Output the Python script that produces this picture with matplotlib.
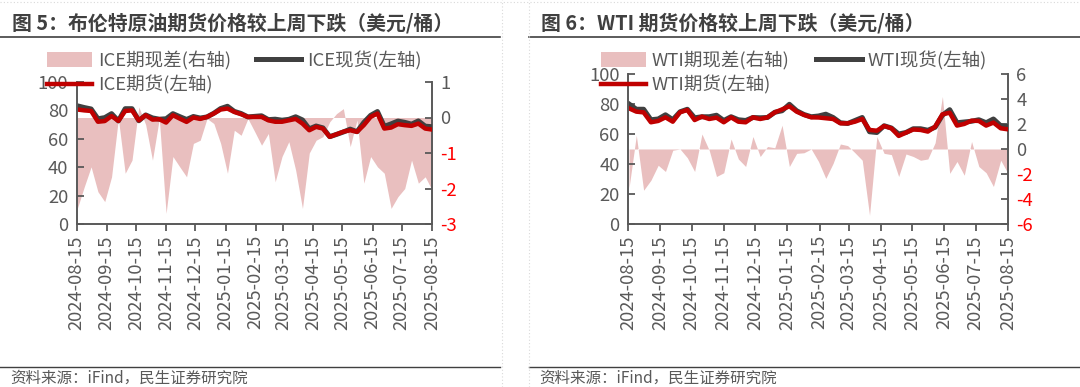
import matplotlib
matplotlib.use("Agg")
import matplotlib.pyplot as plt
from matplotlib.lines import Line2D
import pandas as pd

plt.rcParams['font.family'] = ['Noto Sans CJK SC', 'DejaVu Sans']
plt.rcParams['axes.unicode_minus'] = False

# ---------------- data ----------------
start_date = '2024-08-16'
n_weeks = 53
tick_labels = ['2024-08-15', '2024-09-15', '2024-10-15', '2024-11-15', '2024-12-15',
               '2025-01-15', '2025-02-15', '2025-03-15', '2025-04-15', '2025-05-15',
               '2025-06-15', '2025-07-15', '2025-08-15']

ice_futures = [80.6, 80.0, 79.6, 72.0, 72.5, 76.0, 72.6, 79.6, 80.0, 73.0,
               76.6, 73.5, 73.8, 71.4, 76.6, 74.2, 71.9, 75.0, 74.0, 75.4,
               77.8, 80.6, 81.3, 78.9, 77.3, 75.4, 75.4, 75.4, 73.0, 72.0,
               72.0, 73.0, 74.0, 70.7, 66.0, 68.4, 67.2, 61.4, 63.2, 65.0,
               66.0, 64.9, 69.6, 75.4, 77.8, 67.2, 67.9, 70.3, 69.6, 69.1,
               70.7, 67.2, 66.5]
ice_spot = [83.2, 82.0, 81.0, 74.1, 74.9, 77.7, 72.6, 81.2, 81.2, 72.7,
            76.8, 74.7, 73.8, 74.1, 77.7, 75.6, 73.6, 75.7, 74.6, 75.4,
            78.0, 81.3, 82.9, 79.3, 77.8, 75.4, 75.8, 76.2, 73.5, 73.8,
            73.1, 73.7, 75.5, 73.3, 67.0, 69.0, 67.7, 61.5, 63.1, 64.8,
            66.8, 65.0, 71.5, 76.5, 79.2, 68.8, 70.5, 72.5, 71.6, 70.3,
            72.6, 68.9, 68.5]
ice_spread = [-2.55, -1.95, -1.39, -2.09, -2.37, -1.67, -0.03, -1.57, -1.20, 0.30,
              -0.20, -1.20, -0.03, -2.70, -1.10, -1.39, -1.67, -0.73, -0.64, -0.03,
              -0.17, -0.73, -1.57, -0.36, -0.50, -0.03, -0.40, -0.78, -0.45, -1.81,
              -1.10, -0.68, -1.48, -2.56, -1.00, -0.64, -0.54, -0.12, 0.11, 0.25,
              -0.82, -0.07, -1.85, -1.10, -1.39, -1.57, -2.56, -2.23, -2.00, -1.20,
              -1.85, -1.67, -2.04]

wti_futures = [77.1, 74.9, 74.4, 67.8, 68.7, 71.1, 68.2, 74.5, 76.0, 69.3,
               71.6, 70.0, 70.9, 67.8, 71.1, 68.2, 67.8, 71.1, 70.0, 71.1,
               74.4, 76.4, 78.5, 74.9, 72.7, 71.1, 71.0, 70.5, 70.0, 67.1,
               67.1, 68.2, 70.0, 62.7, 62.2, 65.3, 63.8, 58.7, 60.9, 63.0,
               62.7, 61.6, 64.9, 73.1, 74.2, 65.6, 66.7, 68.9, 68.7, 65.6,
               67.6, 63.8, 63.1]
wti_spot = [80.0, 76.5, 76.5, 69.5, 70.0, 72.8, 69.5, 74.8, 76.5, 70.8,
            71.5, 71.5, 72.5, 69.0, 71.5, 69.5, 69.0, 71.0, 70.8, 71.0,
            74.5, 75.5, 79.8, 75.5, 73.0, 71.5, 72.0, 73.2, 71.0, 67.5,
            67.0, 69.0, 71.0, 61.5, 61.0, 65.5, 64.0, 60.0, 61.0, 63.5,
            63.5, 62.5, 64.5, 72.5, 76.2, 67.5, 68.0, 68.5, 69.5, 67.5,
            70.0, 65.5, 65.0]
wti_spread = [-3.1, 1.1, -3.3, -2.5, -1.3, -1.8, -0.1, 0.0, -0.7, -1.8,
              1.2, -0.1, -2.2, -1.9, 0.8, -0.8, -1.4, 1.0, -0.6, 0.2,
              0.1, 1.9, -1.4, -0.35, -0.3, 0.0, -1.0, -2.35, -1.15, 0.4,
              0.27, -0.3, -0.9, -5.3, 1.0, -0.35, -0.45, -2.2, -0.4, -0.6,
              -0.9, -0.8, 0.5, 4.2, -1.95, -1.0, -2.1, 0.6, -1.4, -1.9,
              -3.0, -0.9, -1.95]

ice_left_ticks = [0, 20, 40, 60, 80, 100]
ice_right_ticks = [-3, -2, -1, 0, 1]
wti_left_ticks = [0, 20, 40, 60, 80, 100]
wti_right_ticks = [-6, -4, -2, 0, 2, 4, 6]

# ---------------- style ----------------
W, H = 1080, 387
PINK = '#E9BFBF'
RED = '#C00000'
DARK = '#404040'
AXC = '#595959'
TXT = '#595959'
FS = 13.3

dates = pd.date_range(start_date, periods=n_weeks, freq='7D')
tick_dates = pd.to_datetime(tick_labels)

fig = plt.figure(figsize=(W / 100, H / 100), dpi=100)


def fx(px):
    return px / W


def fy(py):
    return 1 - py / H


def panel(rect, fut, spot, spread, lticks, rticks, names, leg_anchor, colspace):
    ax = fig.add_axes(rect)
    ax2 = ax.twinx()
    ax.set_zorder(ax2.get_zorder() + 1)
    ax.patch.set_visible(False)

    fill = ax2.fill_between(dates, 0, spread, color=PINK, lw=0)
    l_spot, = ax.plot(dates, spot, color=DARK, lw=3.6, solid_joinstyle='round')
    l_fut, = ax.plot(dates, fut, color=RED, lw=3.2, solid_joinstyle='round')

    ax.set_xlim(pd.Timestamp(tick_labels[0]), pd.Timestamp(tick_labels[-1]))
    ax.set_ylim(lticks[0], lticks[-1])
    ax2.set_ylim(rticks[0], rticks[-1])
    ax.set_yticks(lticks)
    ax.set_yticklabels([str(t) for t in lticks])
    ax2.set_yticks(rticks)
    ax2.set_yticklabels([str(t) for t in rticks])
    for lab, t in zip(ax2.get_yticklabels(), rticks):
        lab.set_color('#FF0000' if t < 0 else TXT)
    ax.set_xticks(tick_dates)
    ax.set_xticklabels(tick_labels, rotation=90)

    for a in (ax, ax2):
        for s in a.spines.values():
            s.set_color(AXC)
            s.set_linewidth(1.4)
        a.spines['top'].set_visible(False)
    ax.spines['right'].set_visible(False)
    ax2.spines['left'].set_visible(False)
    ax2.spines['bottom'].set_visible(False)

    ax.tick_params(axis='y', direction='in', length=5, width=1.3, color=AXC,
                   labelsize=FS, labelcolor=TXT, pad=6)
    ax2.tick_params(axis='y', direction='in', length=5, width=1.3, color=AXC,
                    labelsize=FS, pad=6)
    ax.tick_params(axis='x', direction='out', length=5, width=1.3, color=AXC,
                   labelsize=FS, labelcolor=TXT, pad=3)

    handles = [fill, l_fut, l_spot]
    labels = [names[0], names[2], names[1]]
    leg = fig.legend(handles, labels, ncol=2, loc='upper left',
                     bbox_to_anchor=leg_anchor, frameon=False, fontsize=FS,
                     handlelength=2.45, handleheight=0.85, handletextpad=0.3,
                     columnspacing=colspace, labelspacing=0.3,
                     borderaxespad=0, borderpad=0)
    for t in leg.get_texts():
        t.set_color(TXT)
    return ax, ax2


# left panel
panel([fx(76.5), fy(224), fx(432 - 76.5), (224 - 82) / H],
      ice_futures, ice_spot, ice_spread, ice_left_ticks, ice_right_ticks,
      ['ICE期现差(右轴)', 'ICE现货(左轴)', 'ICE期货(左轴)'],
      (fx(47), fy(51)), 1.35)

# right panel
panel([fx(628), fy(224), fx(1008 - 628), (224 - 74) / H],
      wti_futures, wti_spot, wti_spread, wti_left_ticks, wti_right_ticks,
      ['WTI期现差(右轴)', 'WTI现货(左轴)', 'WTI期货(左轴)'],
      (fx(601), fy(51)), 1.45)

# titles
fig.text(fx(12), fy(23), '图 5：布伦特原油期货价格较上周下跌（美元/桶）',
         fontsize=14.3, fontweight='bold', color='#404040', va='center', ha='left')
fig.text(fx(541), fy(23), '图 6：WTI 期货价格较上周下跌（美元/桶）',
         fontsize=14.3, fontweight='bold', color='#404040', va='center', ha='left')

# separator lines
for (x0, x1) in [(0, 500), (529, 1080)]:
    fig.add_artist(Line2D([fx(x0), fx(x1)], [fy(36.5), fy(36.5)], color='#404040', lw=1.2))
    fig.add_artist(Line2D([fx(x0), fx(x1)], [fy(367), fy(367)], color='#404040', lw=1.0))

# faint dotted frame lines of the source layout
for x in (502, 529):
    fig.add_artist(Line2D([fx(x), fx(x)], [0, 1], color='#D9D9D9', lw=0.8, ls=(0, (1, 2))))
fig.add_artist(Line2D([0, 1], [fy(2), fy(2)], color='#D9D9D9', lw=0.8, ls=(0, (1, 2))))

# source notes
fig.text(fx(10), fy(378), '资料来源：iFind，民生证券研究院', fontsize=11.2,
         color=TXT, va='center', ha='left')
fig.text(fx(539), fy(378), '资料来源：iFind，民生证券研究院', fontsize=11.2,
         color=TXT, va='center', ha='left')

fig.savefig('out.png', dpi=100)
